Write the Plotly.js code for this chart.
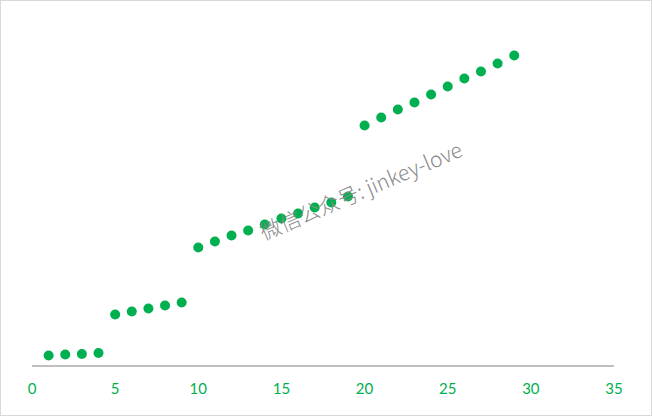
<!DOCTYPE html>
<html>
<head>
<meta charset="utf-8">
<script src="https://cdn.plot.ly/plotly-3.0.1.min.js"></script>
<style>
html,body{margin:0;padding:0;background:#fff;}
#wrap{width:652px;height:416px;box-sizing:border-box;border:1px solid #d9d9d9;overflow:hidden;}
#chart{width:650px;height:414px;}
</style>
</head>
<body>
<div id="wrap"><div id="chart"></div></div>
<script>
const xValues = [1,2,3,4,5,6,7,8,9,10,11,12,13,14,15,16,17,18,19,20,21,22,23,24,25,26,27,28,29];
const yValues = [9.5,10.5,11,12,50.5,53.5,56.5,59.5,62.5,117.5,123.5,129.5,134.5,140.5,146.5,151.5,157.5,162.5,168.5,239.5,247.5,255.5,262.5,270.5,278.5,286.5,293.5,301.5,309.5];
const xTicks = [0,5,10,15,20,25,30,35];
const watermark = '微信公众号: jinkey-love';

const trace = {
  x: xValues, y: yValues, type: 'scatter', mode: 'markers',
  marker: {color: '#00B050', size: 10}, hoverinfo: 'skip'
};
const layout = {
  width: 650, height: 414,
  margin: {l: 31, r: 37, t: 14, b: 50},
  paper_bgcolor: '#fff', plot_bgcolor: '#fff',
  showlegend: false,
  xaxis: {
    range: [0, 35], tickvals: xTicks, ticktext: xTicks.map(String),
    showgrid: false, zeroline: false, showline: true, linecolor: '#bfbfbf', linewidth: 1.5,
    ticks: '', ticklabelstandoff: 9,
    tickfont: {family: 'Lato, "Open Sans", sans-serif', size: 15, color: '#00B050'}
  },
  yaxis: {
    range: [0, 350], visible: false, showgrid: false, zeroline: false
  },
  annotations: [{
    text: watermark, xref: 'paper', yref: 'paper', x: 0.5636, y: 0.5,
    showarrow: false, textangle: -23,
    font: {family: '"Noto Sans CJK SC", "Liberation Sans", sans-serif', size: 21, color: '#8a8a8a', weight: 300}
  }]
};
Plotly.newPlot('chart', [trace], layout, {displayModeBar: false, staticPlot: true});
</script>
</body>
</html>
